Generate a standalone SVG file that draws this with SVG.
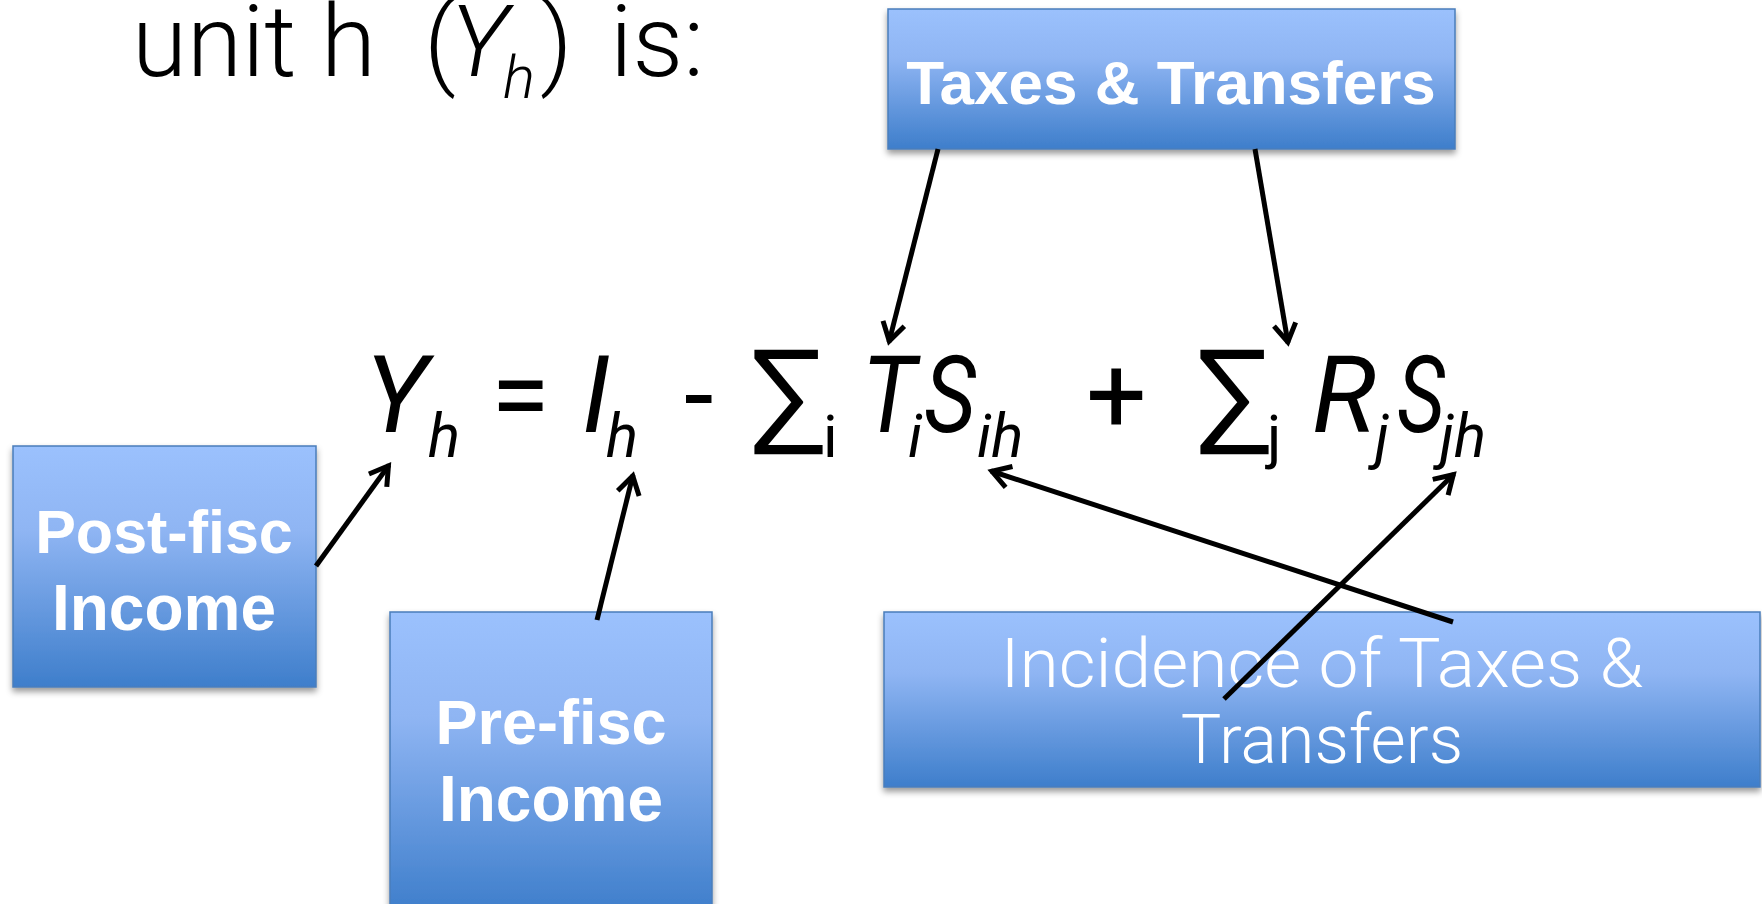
<svg xmlns="http://www.w3.org/2000/svg" width="1762" height="904" viewBox="0 0 1762 904">
<style>
.eq{font-family:Roboto,"Liberation Sans",sans-serif;font-weight:400;fill:#000}
.ttl{font-family:Roboto,"Liberation Sans",sans-serif;font-weight:300;fill:#000;font-size:100px}
.it{font-style:italic}
.big{font-size:107px}
.sub{font-size:60px}
.sig{font-size:124px}
.box{fill:url(#g);stroke:#4A7EBB;stroke-width:1.5;filter:url(#sh)}
.bt{font-family:"Liberation Sans",Arial,sans-serif;font-weight:bold;fill:#fff;text-anchor:middle}
.lt{font-family:Roboto,"Liberation Sans",sans-serif;font-weight:300;fill:#fff;text-anchor:middle;font-size:68px}
.con{stroke:#000;stroke-width:5;fill:none;marker-end:url(#ah)}
</style>
<defs>
<linearGradient id="g" x1="0" y1="0" x2="0" y2="1">
<stop offset="0" stop-color="#9BC1FD"/>
<stop offset="0.35" stop-color="#8FB5F3"/>
<stop offset="1" stop-color="#3E7ECB"/>
</linearGradient>
<filter id="sh" x="-10%" y="-10%" width="120%" height="130%">
<feDropShadow dx="0" dy="4" stdDeviation="3" flood-color="#000" flood-opacity="0.4"/>
</filter>
<marker id="ah" markerUnits="userSpaceOnUse" markerWidth="32" markerHeight="32" refX="24" refY="13" orient="auto">
<path d="M5,2 L23,13 L5,24" fill="none" stroke="#000" stroke-width="5" stroke-linejoin="miter"/>
</marker>
</defs>
<g id="title" class="ttl">
<text x="132" y="76">unit h</text>
<text x="424" y="76">(</text>
<text x="450" y="76" class="it">Y</text>
<text x="503" y="98" class="it" font-size="60">h</text>
<text x="540" y="76">)</text>
<text x="610" y="76">is:</text>
</g>
<g id="equation" class="eq">
<text x="365" y="432" class="big it">Y</text>
<text x="428" y="457" class="sub it">h</text>
<text x="491" y="432" class="big">=</text>
<text x="582" y="432" class="big it">I</text>
<text x="606" y="457" class="sub it">h</text>
<text x="684" y="432" class="big">-</text>
<text x="750" y="438" class="sig">∑</text>
<text x="823" y="457" class="sub">i</text>
<text x="862" y="432" class="big it" textLength="54" lengthAdjust="spacingAndGlyphs">T</text>
<text x="908" y="457" class="sub it">i</text>
<text x="924" y="432" class="big it" textLength="52" lengthAdjust="spacingAndGlyphs">S</text>
<text x="977" y="457" class="sub it">ih</text>
<text x="1086" y="432" class="big">+</text>
<text x="1196" y="438" class="sig">∑</text>
<text x="1267" y="457" class="sub">j</text>
<text x="1312" y="432" class="big it">R</text>
<text x="1375" y="457" class="sub it">j</text>
<text x="1397" y="432" class="big it" textLength="48" lengthAdjust="spacingAndGlyphs">S</text>
<text x="1440" y="457" class="sub it">jh</text>
</g>
<g id="taxes">
<rect x="888" y="9" width="567" height="140" class="box"/>
<text x="1171" y="104" class="bt" font-size="62">Taxes &amp; Transfers</text>
</g>
<g id="postfisc">
<rect x="13" y="446" width="303" height="241" class="box"/>
<text x="164" y="553" class="bt" font-size="61">Post-fisc</text>
<text x="164" y="630" class="bt" font-size="64">Income</text>
</g>
<g id="prefisc">
<rect x="390" y="612" width="322" height="300" class="box"/>
<text x="551" y="744" class="bt" font-size="63">Pre-fisc</text>
<text x="551" y="821" class="bt" font-size="64">Income</text>
</g>
<g id="incidence">
<rect x="884" y="612" width="876" height="175" class="box"/>
<text x="1322" y="687" class="lt" textLength="643" lengthAdjust="spacingAndGlyphs">Incidence of Taxes &amp;</text>
<text x="1322" y="763" class="lt">Transfers</text>
</g>
<g id="connectors">
<line x1="938" y1="149" x2="889" y2="342" class="con"/>
<line x1="1255" y1="149" x2="1288" y2="343" class="con"/>
<line x1="316" y1="566" x2="389" y2="465" class="con"/>
<line x1="597" y1="620" x2="633" y2="475" class="con"/>
<line x1="1453" y1="622" x2="991" y2="471" class="con"/>
<line x1="1224" y1="699" x2="1454" y2="474" class="con"/>
</g>
</svg>
